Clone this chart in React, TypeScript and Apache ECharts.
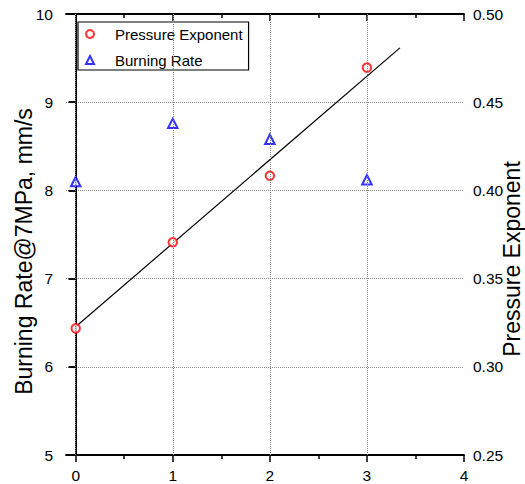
import React, { useEffect, useRef } from "react";
import * as echarts from "echarts";

const xTicks = [0, 1, 2, 3, 4];
const xMinorTicks = [0.5, 1.5, 2.5, 3.5];
const xGridLines = [0, 1, 2, 3];
const xValues = [0, 1, 2, 3];
const pressureExponent = [0.3218, 0.3706, 0.4083, 0.4696];
const burningRate = [8.1, 8.76, 8.58, 8.12];
const fitX = [0, 3.34];
const fitY = [0.3227, 0.4808];

const SANS = "'Liberation Sans', Arial, sans-serif";

export default function App() {
  const ref = useRef<HTMLDivElement>(null);
  useEffect(() => {
    if (!ref.current) return;
    const chart = echarts.init(ref.current, undefined, { renderer: "svg" });
    const axisLine = { show: true, lineStyle: { color: "#000", width: 1.8 } };
    const tickStyle = { color: "#000", width: 1.5 };
    const gridLine = { color: "#8c8c8c", width: 1, type: "dotted" };
    const xBase = { type: "value", min: -0.1, max: 4, splitLine: { show: false }, gridIndex: 0 };
    const option: any = {
      animation: false,
      backgroundColor: "#fff",
      grid: { left: 66, right: 61, top: 14, bottom: 29, outerBoundsMode: "none", containLabel: false },
      legend: {
        left: 78,
        top: 22,
        orient: "vertical",
        data: ["Pressure Exponent", "Burning Rate"],
        borderColor: "#000",
        borderWidth: 1.2,
        padding: [2, 6, 0, 7],
        itemWidth: 8,
        itemHeight: 8,
        itemGap: 6,
        textStyle: { fontFamily: SANS, fontSize: 15, color: "#000", lineHeight: 20, padding: [0, 0, 0, 16] },
      },
      xAxis: [
        {
          ...xBase,
          position: "bottom",
          axisLine,
          axisTick: { show: true, customValues: xTicks, length: 7, inside: false, lineStyle: tickStyle },
          axisLabel: { show: true, customValues: xTicks, fontFamily: SANS, fontSize: 15.5, color: "#000", margin: 12 },
        },
        {
          ...xBase,
          position: "bottom",
          axisLine: { show: false },
          axisTick: { show: true, customValues: xMinorTicks, length: 4, inside: false, lineStyle: tickStyle },
          axisLabel: { show: false },
        },
        {
          ...xBase,
          position: "top",
          axisLine,
          axisTick: { show: true, customValues: xTicks, length: 7, inside: true, lineStyle: tickStyle },
          axisLabel: { show: false },
        },
        {
          ...xBase,
          position: "top",
          axisLine: { show: false },
          axisTick: { show: true, customValues: xMinorTicks, length: 4, inside: true, lineStyle: tickStyle },
          axisLabel: { show: false },
        },
      ],
      yAxis: [
        {
          type: "value",
          position: "left",
          min: 5,
          max: 10,
          interval: 1,
          axisLine,
          axisTick: { show: true, length: 7, inside: false, lineStyle: tickStyle },
          axisLabel: { fontFamily: SANS, fontSize: 15.5, color: "#000", margin: 13 },
          splitLine: { show: true, lineStyle: gridLine },
          name: "Burning Rate@7MPa, mm/s",
          nameLocation: "middle",
          nameRotate: 90,
          nameGap: 31,
          nameMoveOverlap: false,
          nameTextStyle: { fontFamily: SANS, fontSize: 23, color: "#000", padding: [0, 34, 0, 0] },
        },
        {
          type: "value",
          position: "right",
          min: 0.25,
          max: 0.5,
          interval: 0.05,
          axisLine,
          axisTick: { show: true, length: 7, inside: true, lineStyle: tickStyle },
          axisLabel: {
            fontFamily: SANS,
            fontSize: 15.5,
            color: "#000",
            margin: 9,
            formatter: (v: number) => v.toFixed(2),
          },
          splitLine: { show: false },
          name: "Pressure Exponent",
          nameLocation: "middle",
          nameRotate: 90,
          nameGap: 36,
          nameMoveOverlap: false,
          nameTextStyle: { fontFamily: SANS, fontSize: 23, color: "#000", padding: [0, 49, 0, 0] },
        },
      ],
      series: [
        {
          name: "Fit",
          type: "line",
          xAxisIndex: 0,
          yAxisIndex: 1,
          data: fitX.map((x, i) => [x, fitY[i]]),
          showSymbol: false,
          symbol: "none",
          lineStyle: { color: "#000", width: 1.2 },
          z: 1,
          silent: true,
          markLine: {
            silent: true,
            symbol: "none",
            label: { show: false },
            lineStyle: gridLine,
            emphasis: { disabled: true },
            data: xGridLines.map((x) => ({ xAxis: x })),
          },
        },
        {
          name: "Pressure Exponent",
          type: "scatter",
          xAxisIndex: 0,
          yAxisIndex: 1,
          data: xValues.map((x, i) => [x, pressureExponent[i]]),
          symbol: "emptyCircle",
          symbolSize: 8.5,
          itemStyle: { color: "#ff0000", borderColor: "#ff0000", borderWidth: 1.3 },
          z: 3,
        },
        {
          name: "Burning Rate",
          type: "scatter",
          xAxisIndex: 0,
          yAxisIndex: 0,
          data: xValues.map((x, i) => [x, burningRate[i]]),
          symbol: "emptyTriangle",
          symbolSize: 9.5,
          itemStyle: { color: "#0000ff", borderColor: "#0000ff", borderWidth: 1.3 },
          z: 3,
        },
      ],
    };
    chart.setOption(option);
    return () => chart.dispose();
  }, []);
  return (
    <div
      ref={ref}
      style={{ position: "fixed", left: 0, top: 0, width: 525, height: 484, background: "#fff" }}
    />
  );
}
